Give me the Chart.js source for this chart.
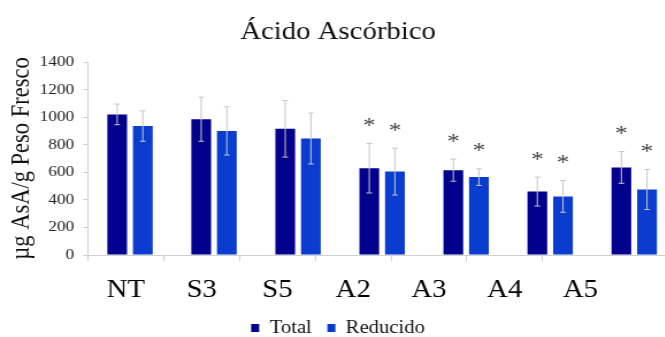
<!DOCTYPE html>
<html>
<head>
<meta charset="utf-8">
<script src="https://cdn.jsdelivr.net/npm/chart.js@4/dist/chart.umd.min.js"></script>
<style>
  html, body { margin: 0; padding: 0; background: #fff; width: 665px; height: 337px; overflow: hidden; }
  /* the figure is laid out slightly condensed and widened to its final proportions */
  #wrap { width: 596px; height: 337px; transform: scaleX(1.15); transform-origin: 0 0; }
</style>
</head>
<body>
<div id="wrap"><canvas id="c" width="596" height="337"></canvas></div>
<script>
// Treatments
const categories = ['NT', 'S3', 'S5', 'A2', 'A3', 'A4', 'A5'];

// Ascorbic acid content (µg AsA / g fresh weight)
const totalValues   = [1020, 985, 915, 630, 615, 460, 635];
const reducedValues = [935, 900, 845, 605, 565, 425, 475];

// Standard deviations
const totalErrors   = [75, 160, 205, 180, 80, 105, 115];
const reducedErrors = [110, 175, 185, 170, 60, 115, 145];

// Significant difference versus NT
const totalSignificant   = [false, false, false, true, true, true, true];
const reducedSignificant = [false, false, false, true, true, true, true];

// Y axis ticks
const yTicks = [0, 200, 400, 600, 800, 1000, 1200, 1400];

const SERIF = '"Liberation Serif", "Times New Roman", serif';

// Error bars (± SD) and significance asterisks, positioned through the chart scales
const errorBarPlugin = {
  id: 'errorBars',
  afterDatasetsDraw(chart) {
    const ctx = chart.ctx;
    const y = chart.scales.y;
    chart.data.datasets.forEach((ds, di) => {
      const meta = chart.getDatasetMeta(di);
      meta.data.forEach((bar, i) => {
        const v = ds.data[i];
        const e = ds.errors[i];
        const yTop = y.getPixelForValue(v + e);
        const yBot = y.getPixelForValue(v - e);
        const x = bar.x;
        ctx.save();
        ctx.strokeStyle = '#c9c6bd';
        ctx.lineWidth = 1;
        ctx.beginPath();
        ctx.moveTo(x, yTop); ctx.lineTo(x, yBot);
        ctx.moveTo(x - 2.5, yTop); ctx.lineTo(x + 2.5, yTop);
        ctx.moveTo(x - 2.5, yBot); ctx.lineTo(x + 2.5, yBot);
        ctx.stroke();
        if (ds.significant[i]) {
          ctx.fillStyle = '#444';
          ctx.font = '22px ' + SERIF;
          ctx.textAlign = 'center';
          ctx.textBaseline = 'alphabetic';
          ctx.fillText('*', x, yTop - 22 + 10.5);
        }
        ctx.restore();
      });
    });
  }
};

new Chart(document.getElementById('c'), {
  type: 'bar',
  data: {
    labels: categories,
    datasets: [
      {
        label: 'Total',
        data: totalValues,
        errors: totalErrors,
        significant: totalSignificant,
        backgroundColor: '#02008c',
        xAxisID: 'x',
        yAxisID: 'y',
        categoryPercentage: 0.61,
        barPercentage: 0.77
      },
      {
        label: 'Reducido',
        data: reducedValues,
        errors: reducedErrors,
        significant: reducedSignificant,
        backgroundColor: '#0b3cd0',
        xAxisID: 'x',
        yAxisID: 'y',
        categoryPercentage: 0.61,
        barPercentage: 0.77
      }
    ]
  },
  options: {
    responsive: false,
    animation: false,
    devicePixelRatio: 1,
    layout: { padding: { left: 0, right: 8, top: 0, bottom: -10 } },
    plugins: {
      title: {
        display: true,
        text: 'Ácido Ascórbico',
        color: '#111',
        font: { family: SERIF, size: 25, weight: 'normal' },
        padding: { top: 17, bottom: 15 }
      },
      legend: {
        display: true,
        position: 'bottom',
        labels: {
          color: '#111',
          font: { family: SERIF, size: 18 },
          boxWidth: 7,
          boxHeight: 8,
          padding: 0,
          // keep a wider gap between the two legend entries
          generateLabels(chart) {
            const items = Chart.defaults.plugins.legend.labels.generateLabels(chart);
            items.forEach((it, i) => { if (i < items.length - 1) it.text = it.text + '\u00a0\u00a0\u00a0'; });
            return items;
          }
        }
      },
      tooltip: { enabled: false }
    },
    scales: {
      x: {
        type: 'category',
        display: false,
        offset: true
      },
      xLabels: {
        type: 'linear',
        position: 'bottom',
        offset: false,
        min: 0,
        max: categories.length * 1.109,
        afterBuildTicks(scale) {
          const t = [];
          for (let k = 0; k < categories.length; k++) {
            t.push({ value: k });
            t.push({ value: k + 0.5 });
          }
          scale.ticks = t;
        },
        grid: {
          offset: false,
          drawOnChartArea: false,
          tickLength: 6,
          color: (c) => (c.tick && Number.isInteger(c.tick.value)) ? '#cfcfcf' : 'rgba(0,0,0,0)'
        },
        border: { display: true, color: '#cfcfcf' },
        ticks: {
          autoSkip: false,
          maxRotation: 0,
          padding: 14,
          color: '#000',
          font: { family: SERIF, size: 25 },
          callback: (v) => (v % 1 === 0.5) ? categories[Math.floor(v)] : ''
        }
      },
      y: {
        min: 0,
        max: 1400,
        afterBuildTicks(scale) { scale.ticks = yTicks.map(v => ({ value: v })); },
        afterFit(scale) { scale.width = 76.5; },
        grid: { drawOnChartArea: false, tickLength: 4, color: '#cfcfcf' },
        border: { display: true, color: '#cfcfcf' },
        ticks: {
          padding: 8,
          color: '#222',
          font: { family: SERIF, size: 15 },
          callback: (v) => String(v)
        },
        title: {
          display: true,
          text: 'µg AsA/g Peso Fresco',
          color: '#111',
          font: { family: SERIF, size: 22.5 },
          padding: { top: 6, bottom: 0 }
        }
      }
    }
  },
  plugins: [errorBarPlugin]
});
</script>
</body>
</html>
